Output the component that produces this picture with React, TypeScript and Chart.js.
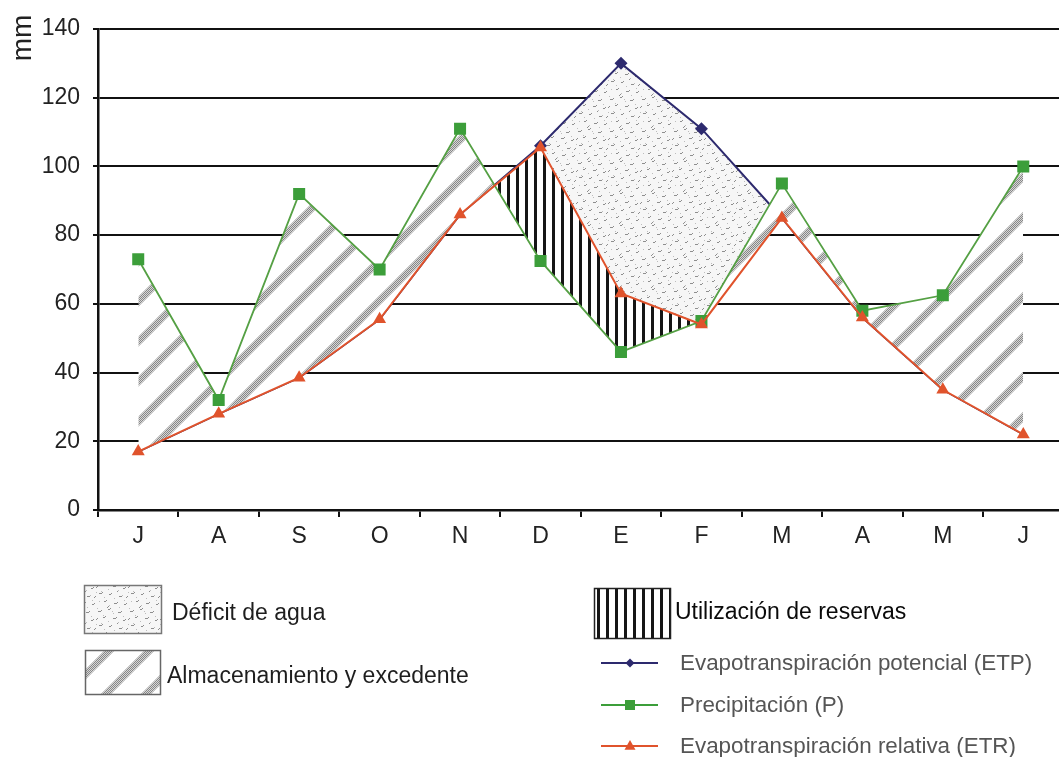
import React, { useEffect, useRef } from 'react';
import { Chart, registerables } from 'chart.js';

Chart.register(...registerables);

// ---------- Data ----------
const months = ['J', 'A', 'S', 'O', 'N', 'D', 'E', 'F', 'M', 'A', 'M', 'J'];
const etpValues = [17, 28, 38.5, 55.5, 86, 106, 130, 111, 85, 56, 35, 22];
const precipValues = [73, 32, 92, 70, 111, 72.5, 46, 55, 95, 58, 62.5, 100];
const etrValues = [17, 28, 38.5, 55.5, 86, 105.5, 63, 54, 85, 56, 35, 22];
const yMin = 0;
const yMax = 140;
const yStep = 20;
const yTitle = 'mm';
const legendDeficit = 'Déficit de agua';
const legendAlmacen = 'Almacenamiento y excedente';
const legendReservas = 'Utilización de reservas';
const legendETP = 'Evapotranspiración potencial (ETP)';
const legendP = 'Precipitación (P)';
const legendETR = 'Evapotranspiración relativa (ETR)';

const FONT = '"Liberation Sans", Arial, Helvetica, sans-serif';
const C_ETP = '#2d2a6e';
const C_P = '#55a044';
const C_P_MARK = '#3c9e3a';
const C_ETR = '#e0532c';

// ---------- Patterns ----------
function makeHatch(): CanvasPattern | string {
  const s = 40;
  const c = document.createElement('canvas');
  c.width = s;
  c.height = s;
  const g = c.getContext('2d');
  if (!g) return '#ccc';
  g.fillStyle = '#fff';
  g.fillRect(0, 0, s, s);
  g.strokeStyle = '#000';
  g.lineWidth = 7;
  for (const off of [-s, 0, s]) {
    g.beginPath();
    g.moveTo(off - 5, s + 5);
    g.lineTo(off + s + 5, -5);
    g.stroke();
  }
  const img = g.getImageData(0, 0, s, s);
  const d = img.data;
  for (let y = 0; y < s; y++) {
    for (let x = 0; x < s; x++) {
      const i = (y * s + x) * 4;
      const v = d[i];
      if (v < 200) {
        const dark = (x + y) % 2 === 0;
        const col = dark ? 135 : 215;
        const a = 1 - v / 255;
        const out = Math.round(255 * (1 - a) + col * a);
        d[i] = d[i + 1] = d[i + 2] = out;
      } else {
        d[i] = d[i + 1] = d[i + 2] = 255;
      }
      d[i + 3] = 255;
    }
  }
  g.putImageData(img, 0, 0);
  return g.createPattern(c, 'repeat') || '#ccc';
}

function makeStripes(): CanvasPattern | string {
  const w = 9;
  const h = 9;
  const c = document.createElement('canvas');
  c.width = w;
  c.height = h;
  const g = c.getContext('2d');
  if (!g) return '#000';
  g.fillStyle = '#fff';
  g.fillRect(0, 0, w, h);
  g.fillStyle = '#151515';
  g.fillRect(3, 0, 3, h);
  return g.createPattern(c, 'repeat') || '#000';
}

function makeStipple(): CanvasPattern | string {
  const s = 32;
  const c = document.createElement('canvas');
  c.width = s;
  c.height = s;
  const g = c.getContext('2d');
  if (!g) return '#eee';
  g.fillStyle = '#f6f6f6';
  g.fillRect(0, 0, s, s);
  const marks: [number, number, number][] = [
    [2, 3, 3], [12, 1, 2], [22, 4, 3], [7, 9, 2], [17, 10, 3], [27, 12, 2],
    [3, 17, 3], [13, 18, 2], [23, 20, 3], [8, 25, 2], [18, 27, 3], [28, 28, 2],
    [0, 11, 1], [30, 21, 1], [11, 31, 1], [21, 15, 1],
  ];
  g.fillStyle = '#8e8e8e';
  for (const [x, y, l] of marks) {
    g.fillRect(x, y, l, 1);
    g.fillRect(x + l, y - 1, 1, 1);
  }
  g.fillStyle = '#bdbdbd';
  for (const [x, y] of marks) {
    g.fillRect((x + 5) % s, (y + 4) % s, 1, 1);
  }
  return g.createPattern(c, 'repeat') || '#eee';
}

export default function App() {
  const ref = useRef<HTMLCanvasElement | null>(null);

  useEffect(() => {
    const canvas = ref.current;
    if (!canvas) return;
    const hatch = makeHatch();
    const stripes = makeStripes();
    const stipple = makeStipple();

    const overlay = {
      id: 'overlay',
      afterDraw(chart: any) {
        const ctx = chart.ctx as CanvasRenderingContext2D;
        ctx.save();
        // y title
        ctx.save();
        ctx.translate(23, 38);
        ctx.rotate(-Math.PI / 2);
        ctx.fillStyle = '#222';
        ctx.font = `28px ${FONT}`;
        ctx.textAlign = 'center';
        ctx.textBaseline = 'middle';
        ctx.fillText(yTitle, 0, 0);
        ctx.restore();

        // legend boxes
        const box = (x: number, y: number, w: number, h: number, fill: any, stroke: string) => {
          ctx.fillStyle = fill;
          ctx.fillRect(x, y, w, h);
          ctx.strokeStyle = stroke;
          ctx.lineWidth = 1.5;
          ctx.strokeRect(x + 0.5, y + 0.5, w, h);
        };
        box(84, 585, 77, 48, stipple, '#777');
        box(85, 650, 75, 44, hatch, '#666');
        box(594, 588, 76, 50, stripes, '#222');

        ctx.textBaseline = 'middle';
        ctx.textAlign = 'left';
        ctx.font = `23px ${FONT}`;
        ctx.fillStyle = '#1e1e1e';
        ctx.fillText(legendDeficit, 172, 614);
        ctx.fillText(legendAlmacen, 167, 677);
        ctx.fillStyle = '#0a0a0a';
        ctx.font = `23px ${FONT}`;
        ctx.fillText(legendReservas, 675, 613);

        const lineItem = (y: number, color: string, style: string, r: number, label: string) => {
          ctx.strokeStyle = color;
          ctx.lineWidth = 2;
          ctx.beginPath();
          ctx.moveTo(601, y);
          ctx.lineTo(658, y);
          ctx.stroke();
          ctx.fillStyle = color;
          ctx.beginPath();
          if (style === 'diamond') {
            ctx.moveTo(630, y - r);
            ctx.lineTo(630 + r, y);
            ctx.lineTo(630, y + r);
            ctx.lineTo(630 - r, y);
          } else if (style === 'square') {
            ctx.rect(630 - r, y - r, 2 * r, 2 * r);
          } else {
            ctx.moveTo(630, y - r * 1.1);
            ctx.lineTo(630 + r, y + r * 0.7);
            ctx.lineTo(630 - r, y + r * 0.7);
          }
          ctx.closePath();
          ctx.fill();
          ctx.fillStyle = '#555';
          ctx.font = `22.4px ${FONT}`;
          ctx.fillText(label, 680, y + 1);
        };
        lineItem(663, C_ETP, 'diamond', 4.5, legendETP);
        lineItem(705, C_P_MARK, 'square', 5, legendP);
        lineItem(746, C_ETR, 'triangle', 5.5, legendETR);
        ctx.restore();
      },
    };

    const chart = new Chart(canvas, {
      type: 'line',
      data: {
        labels: months,
        datasets: [
          {
            label: legendETP,
            data: etpValues,
            borderColor: C_ETP,
            backgroundColor: C_ETP,
            borderWidth: 2,
            pointStyle: 'rectRot',
            pointRadius: (c: any) =>
              etpValues[c.dataIndex] === etrValues[c.dataIndex] ? 0 : 6.5,
            pointBorderWidth: 0,
            tension: 0,
            order: 3,
            fill: { target: 2, above: stipple as any, below: 'rgba(0,0,0,0)' },
          },
          {
            label: legendP,
            data: precipValues,
            borderColor: C_P,
            backgroundColor: C_P_MARK,
            borderWidth: 1.8,
            pointStyle: 'rect',
            pointRadius: 8.5,
            pointBorderWidth: 0,
            tension: 0,
            order: 2,
            fill: { target: 2, above: hatch as any, below: stripes as any },
          },
          {
            label: legendETR,
            data: etrValues,
            borderColor: C_ETR,
            backgroundColor: C_ETR,
            borderWidth: 2,
            pointStyle: 'triangle',
            pointRadius: 7.5,
            pointBorderWidth: 0,
            tension: 0,
            order: 1,
            fill: false,
          },
        ],
      },
      options: {
        responsive: false,
        animation: false,
        devicePixelRatio: 1,
        layout: { padding: { top: 29, right: 2, left: 0, bottom: 0 } },
        plugins: {
          legend: { display: false },
          tooltip: { enabled: false },
          title: { display: false },
        },
        scales: {
          x: {
            type: 'category',
            offset: true,
            grid: {
              offset: true,
              drawOnChartArea: false,
              drawTicks: true,
              tickLength: 7,
              color: '#111',
              lineWidth: 2,
            },
            border: { color: '#111', width: 2.5 },
            ticks: {
              color: '#222',
              font: { family: FONT, size: 23 },
              padding: 6,
              maxRotation: 0,
              autoSkip: false,
            },
            afterFit: (s: any) => {
              s.height = 247;
            },
          },
          y: {
            min: yMin,
            max: yMax,
            ticks: {
              stepSize: yStep,
              color: '#222',
              font: { family: FONT, size: 23 },
              padding: 13,
            },
            grid: { color: '#111', lineWidth: 2, tickLength: 5 },
            border: { color: '#111', width: 2.5 },
            afterFit: (s: any) => {
              s.width = 98;
            },
          },
        },
      },
      plugins: [overlay],
    } as any);

    return () => chart.destroy();
  }, []);

  return (
    <div
      style={{
        position: 'absolute',
        left: 0,
        top: 0,
        width: 1059,
        height: 757,
        overflow: 'hidden',
        background: '#fff',
      }}
    >
      <canvas ref={ref} width={1072} height={757} style={{ display: 'block' }} />
    </div>
  );
}
